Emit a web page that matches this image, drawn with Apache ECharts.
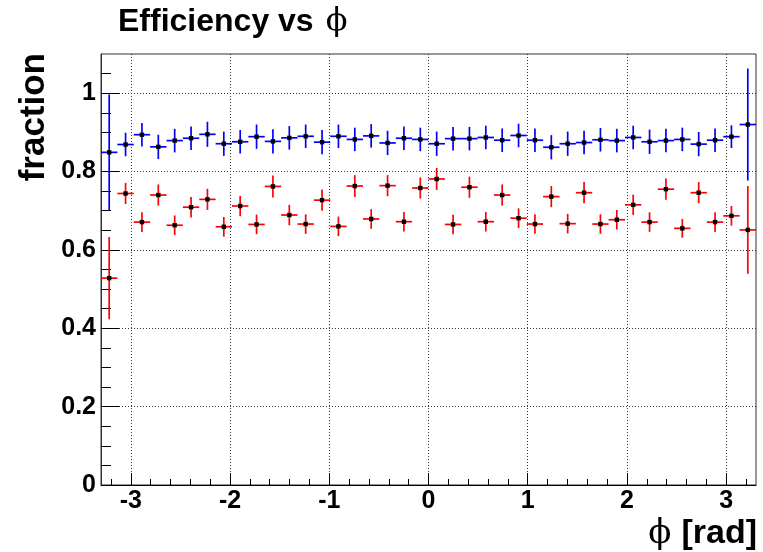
<!DOCTYPE html>
<html>
<head>
<meta charset="utf-8">
<script src="https://cdn.jsdelivr.net/npm/echarts@6/dist/echarts.min.js"></script>
<style>
  html, body { margin: 0; padding: 0; background: #fff; }
  #chart { width: 763px; height: 552px; }
</style>
</head>
<body>
<div id="chart"></div>
<script>
// Histogram binning in phi: 40 bins over [-3.3, 3.3]
const phiLow = -3.3;
const phiHigh = 3.3;
const nBins = 40;

// Efficiency per phi bin (upper set, blue) and its uncertainty
const effBlue = [
  0.849, 0.869, 0.894, 0.863, 0.879, 0.885, 0.895, 0.871, 0.876, 0.889,
  0.877, 0.886, 0.890, 0.875, 0.890, 0.882, 0.891, 0.873, 0.885, 0.882,
  0.871, 0.884, 0.884, 0.887, 0.880, 0.892, 0.880, 0.862, 0.871, 0.874,
  0.881, 0.879, 0.887, 0.876, 0.879, 0.882, 0.870, 0.880, 0.889, 0.920
];
const errBlue = [
  0.148, 0.030, 0.030, 0.031, 0.030, 0.030, 0.032, 0.031, 0.030, 0.031,
  0.031, 0.030, 0.030, 0.031, 0.030, 0.030, 0.030, 0.031, 0.030, 0.030,
  0.031, 0.030, 0.030, 0.030, 0.030, 0.030, 0.030, 0.031, 0.031, 0.030,
  0.030, 0.030, 0.030, 0.031, 0.030, 0.030, 0.031, 0.030, 0.029, 0.143
];

// Efficiency per phi bin (lower set, red) and its uncertainty
const effRed = [
  0.528, 0.744, 0.671, 0.740, 0.663, 0.709, 0.729, 0.659, 0.712, 0.665,
  0.762, 0.689, 0.666, 0.727, 0.660, 0.763, 0.679, 0.764, 0.672, 0.758,
  0.781, 0.665, 0.760, 0.672, 0.740, 0.681, 0.666, 0.736, 0.667, 0.746,
  0.666, 0.677, 0.715, 0.671, 0.755, 0.655, 0.746, 0.671, 0.687, 0.651
];
const errRed = [
  0.105, 0.027, 0.025, 0.027, 0.025, 0.026, 0.027, 0.025, 0.026, 0.025,
  0.028, 0.026, 0.025, 0.027, 0.025, 0.028, 0.025, 0.027, 0.025, 0.027,
  0.028, 0.025, 0.027, 0.025, 0.027, 0.025, 0.025, 0.027, 0.025, 0.027,
  0.025, 0.025, 0.026, 0.025, 0.027, 0.024, 0.027, 0.025, 0.025, 0.112
];

// Axis tick positions
const xMajorTicks = [-3, -2, -1, 0, 1, 2, 3];
const xMinorTicks = [-3.2, -2.8, -2.6, -2.4, -2.2, -1.8, -1.6, -1.4, -1.2, -0.8, -0.6, -0.4, -0.2,
                     0.2, 0.4, 0.6, 0.8, 1.2, 1.4, 1.6, 1.8, 2.2, 2.4, 2.6, 2.8, 3.2];
const yMajorTicks = [0, 0.2, 0.4, 0.6, 0.8, 1];
const yMinorTicks = [0.05, 0.1, 0.15, 0.25, 0.3, 0.35, 0.45, 0.5, 0.55, 0.65, 0.7, 0.75,
                     0.85, 0.9, 0.95, 1.05];

const binWidth = (phiHigh - phiLow) / nBins;
const binCenters = [];
for (let i = 0; i < nBins; i++) binCenters.push(phiLow + (i + 0.5) * binWidth);

function toRows(eff, err) {
  return binCenters.map((c, i) => [c, eff[i], err[i]]);
}

// Each bin: horizontal bar spanning the bin, vertical error bar, black square marker
function errorBarRenderer(color) {
  return function (params, api) {
    const x = api.value(0), y = api.value(1), e = api.value(2);
    const p = api.coord([x, y]);
    const l = api.coord([x - binWidth / 2, y]);
    const r = api.coord([x + binWidth / 2, y]);
    const t = api.coord([x, y + e]);
    const b = api.coord([x, y - e]);
    const lw = 1.7;
    return {
      type: 'group',
      children: [
        { type: 'line', shape: { x1: l[0], y1: p[1], x2: r[0], y2: p[1] },
          style: { stroke: color, lineWidth: lw } },
        { type: 'line', shape: { x1: p[0], y1: t[1], x2: p[0], y2: b[1] },
          style: { stroke: color, lineWidth: lw } },
        { type: 'rect', shape: { x: p[0] - 2.2, y: p[1] - 2.2, width: 4.4, height: 4.4 },
          style: { fill: '#000' } }
      ]
    };
  };
}

const sansBold = 'bold {s}px "Liberation Sans", Arial, Helvetica, sans-serif';
const labelFont = { fontFamily: '"Liberation Sans", Arial, sans-serif', fontWeight: 'bold', fontSize: 25, color: '#000' };

const chart = echarts.init(document.getElementById('chart'), null, { renderer: 'canvas' });

chart.setOption({
  backgroundColor: '#fff',
  animation: false,
  grid: {
    left: 101, right: 7, top: 54, bottom: 67,
    show: true, borderColor: '#333', borderWidth: 1,
    outerBoundsMode: 'none'
  },
  graphic: [
    {
      type: 'text', x: 118, y: 22,
      style: {
        text: '{a|Efficiency vs}{p|ϕ}',
        verticalAlign: 'middle', align: 'left',
        rich: {
          a: { fontFamily: '"Liberation Sans", Arial, sans-serif', fontWeight: 'bold', fontSize: 32, fill: '#000' },
          p: { fontFamily: '"DejaVu Serif", "Liberation Serif", serif', fontSize: 32, fill: '#000', padding: [0, 0, 0, 12] }
        }
      }
    },
    {
      type: 'text', x: 757, y: 534,
      style: {
        text: '{p|ϕ}{a|[rad]}',
        verticalAlign: 'middle', align: 'right',
        rich: {
          a: { fontFamily: '"Liberation Sans", Arial, sans-serif', fontWeight: 'bold', fontSize: 34, fill: '#000', padding: [0, 0, 0, 10] },
          p: { fontFamily: '"DejaVu Serif", "Liberation Serif", serif', fontSize: 34, fill: '#000' }
        }
      }
    },
    {
      type: 'text', x: 34.5, y: 53, rotation: Math.PI / 2,
      style: {
        text: 'fraction',
        font: sansBold.replace('{s}', '35'),
        fill: '#000', align: 'right', verticalAlign: 'middle'
      }
    }
  ],
  xAxis: [
    {
      type: 'value', min: phiLow, max: phiHigh, position: 'bottom',
      axisLine: { onZero: false, lineStyle: { color: '#000', width: 1 } },
      axisTick: { inside: true, length: 12, customValues: xMajorTicks, lineStyle: { color: '#000', width: 1 } },
      axisLabel: Object.assign({ customValues: xMajorTicks, margin: 4 }, labelFont),
      splitLine: { show: true, lineStyle: { color: '#333', width: 1, type: [1, 2] } }
    },
    {
      type: 'value', min: phiLow, max: phiHigh, position: 'bottom',
      axisLine: { show: false, onZero: false },
      axisTick: { inside: true, length: 6, customValues: xMinorTicks, lineStyle: { color: '#000', width: 1 } },
      axisLabel: { show: false },
      splitLine: { show: false }
    }
  ],
  yAxis: [
    {
      type: 'value', min: 0, max: 1.1, position: 'left',
      axisLine: { show: true, onZero: false, lineStyle: { color: '#333', width: 1 } },
      axisTick: { show: true, inside: true, length: 18, customValues: yMajorTicks, lineStyle: { color: '#000', width: 1 } },
      axisLabel: Object.assign({ customValues: yMajorTicks, margin: 5 }, labelFont),
      splitLine: { show: true, lineStyle: { color: '#333', width: 1, type: [1, 2] } }
    },
    {
      type: 'value', min: 0, max: 1.1, position: 'left',
      axisLine: { show: false, onZero: false },
      axisTick: { show: true, inside: true, length: 10, customValues: yMinorTicks, lineStyle: { color: '#000', width: 1 } },
      axisLabel: { show: false },
      splitLine: { show: false }
    }
  ],
  series: [
    {
      name: 'red', type: 'custom', xAxisIndex: 0, yAxisIndex: 0,
      data: toRows(effRed, errRed),
      encode: { x: 0, y: 1 },
      renderItem: errorBarRenderer('#ff0000')
    },
    {
      name: 'blue', type: 'custom', xAxisIndex: 0, yAxisIndex: 0,
      data: toRows(effBlue, errBlue),
      encode: { x: 0, y: 1 },
      renderItem: errorBarRenderer('#0000ff')
    }
  ]
});
</script>
</body>
</html>
